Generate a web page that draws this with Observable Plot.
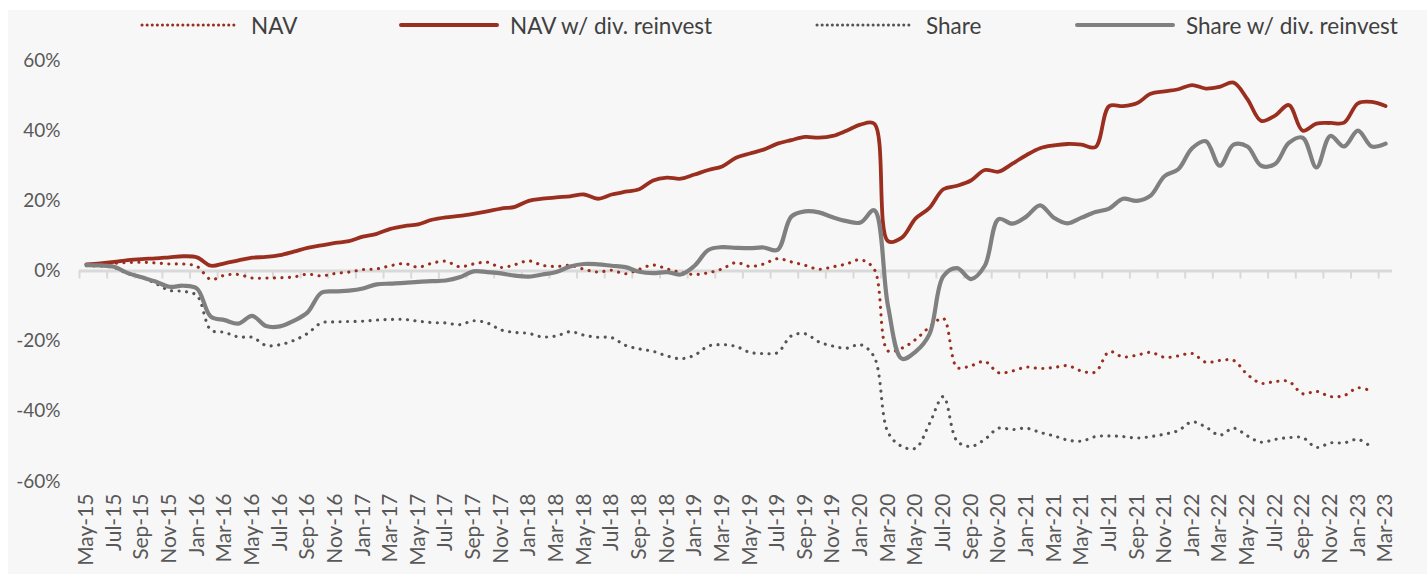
<!DOCTYPE html>
<html>
<head>
<meta charset="utf-8">
<script src="https://cdn.jsdelivr.net/npm/d3@7"></script>
<script src="https://cdn.jsdelivr.net/npm/@observablehq/plot@0.6"></script>
<style>
  body { margin: 0; background: #ffffff; }
  #wrap { position: relative; width: 1427px; height: 574px; background: #f7f7f7; overflow: hidden;
          font-family: Lato, "Open Sans", sans-serif; }
  .edgeT { position: absolute; left: 0; top: 0; width: 1427px; height: 10px; background: #fff; }
  .edgeL { position: absolute; left: 0; top: 0; width: 8px; height: 574px; background: #fff; }
  #legend { position: relative; height: 44px; }
  .item { position: absolute; top: 10px; height: 30px; display: flex; align-items: center;
          font-size: 22.5px; color: #404040; white-space: nowrap; }
  .item svg { margin-right: 11px; }
  #chart { position: relative; }
</style>
</head>
<body>
<div id="wrap">
  <div class="edgeT"></div>
  <div class="edgeL"></div>
  <div id="legend"></div>
  <div id="chart"></div>
</div>
<script>
// ---- data ----
const months = [
  "May-15","Jun-15","Jul-15","Aug-15","Sep-15","Oct-15","Nov-15","Dec-15",
  "Jan-16","Feb-16","Mar-16","Apr-16","May-16","Jun-16","Jul-16","Aug-16","Sep-16","Oct-16","Nov-16","Dec-16",
  "Jan-17","Feb-17","Mar-17","Apr-17","May-17","Jun-17","Jul-17","Aug-17","Sep-17","Oct-17","Nov-17","Dec-17",
  "Jan-18","Feb-18","Mar-18","Apr-18","May-18","Jun-18","Jul-18","Aug-18","Sep-18","Oct-18","Nov-18","Dec-18",
  "Jan-19","Feb-19","Mar-19","Apr-19","May-19","Jun-19","Jul-19","Aug-19","Sep-19","Oct-19","Nov-19","Dec-19",
  "Jan-20","Feb-20","Mar-20","Apr-20","May-20","Jun-20","Jul-20","Aug-20","Sep-20","Oct-20","Nov-20","Dec-20",
  "Jan-21","Feb-21","Mar-21","Apr-21","May-21","Jun-21","Jul-21","Aug-21","Sep-21","Oct-21","Nov-21","Dec-21",
  "Jan-22","Feb-22","Mar-22","Apr-22","May-22","Jun-22","Jul-22","Aug-22","Sep-22","Oct-22","Nov-22","Dec-22",
  "Jan-23","Feb-23","Mar-23"
];

// NAV (%), dotted red
const nav = [
  1.8, 2.0, 2.2, 2.4, 2.5, 2.3, 2.0, 2.0, 1.3, -2.4,
  -1.2, -1.0, -2.0, -2.0, -1.9, -1.7, -0.9, -1.4, -0.7, -0.3,
  0.4, 0.6, 1.5, 2.1, 1.1, 2.2, 2.8, 1.2, 2.0, 2.5,
  1.0, 1.8, 2.9, 1.6, 1.3, 1.6, 0.5, -0.3, 0.2, -0.8,
  0.5, 1.7, 0.6, -0.4, -1.0, -0.5, 0.6, 2.4, 1.3, 2.0,
  3.5, 2.6, 1.6, 0.5, 1.2, 2.0, 3.2, 0.5, -22.8, -22.0,
  -19.5, -16.0, -13.5, -27.5, -27.0, -25.8, -29.0, -28.5, -27.4, -27.8,
  -27.5, -27.0, -28.5, -28.8, -23.0, -24.5, -24.0, -23.2, -24.6, -24.2,
  -23.5, -26.0, -25.5, -25.5, -29.5, -32.0, -31.5, -31.5, -35.0, -34.3,
  -35.8, -35.5, -33.3, -34.3
];

// NAV w/ div. reinvest (%), solid red
const navReinvest = [
  1.9, 2.2, 2.6, 3.1, 3.4, 3.6, 3.9, 4.2, 3.9, 1.5,
  2.2, 3.0, 3.8, 4.0, 4.5, 5.5, 6.6, 7.3, 8.0, 8.5,
  9.8, 10.6, 12.0, 12.8, 13.3, 14.6, 15.3, 15.7, 16.3, 17.0,
  17.8, 18.3, 20.0, 20.6, 21.0, 21.3, 21.8, 20.6, 21.8, 22.6,
  23.3, 25.8, 26.6, 26.3, 27.5, 28.8, 29.8, 32.3, 33.5, 34.6,
  36.3, 37.3, 38.2, 38.0, 38.5, 40.0, 41.7, 42.0, 8.5, 9.5,
  15.0, 18.0, 23.3, 24.3, 25.8, 28.8, 28.3, 30.6, 33.0, 35.0,
  35.8, 36.2, 36.0, 35.3, 47.0, 47.0, 47.8, 50.5, 51.2, 51.8,
  53.0, 52.0, 52.5, 53.7, 49.0, 42.8, 44.3, 47.3, 40.0, 42.0,
  42.2, 42.3, 47.8, 48.2, 47.0
];

// Share (%), dotted grey
const share = [
  1.5, 1.4, 1.0, -0.8, -1.8, -3.5, -5.5, -5.8, -7.0, -16.8,
  -17.5, -18.8, -18.9, -21.2, -21.0, -19.8, -17.8, -14.8, -14.5, -14.4,
  -14.3, -14.0, -13.8, -13.8, -14.3, -14.7, -14.8, -15.3, -14.2, -14.8,
  -16.8, -17.5, -17.8, -18.8, -18.5, -17.3, -18.3, -18.9, -19.0, -21.2,
  -22.2, -22.9, -24.2, -25.0, -24.0, -21.4, -21.0, -21.5, -23.2, -23.5,
  -23.3, -18.5, -17.9, -20.2, -21.4, -22.0, -21.0, -24.5, -46.0, -50.0,
  -50.5, -43.5, -35.8, -48.5, -50.0, -48.0, -44.8, -45.2, -44.8, -46.0,
  -47.0, -48.2, -48.5, -47.2, -47.0, -47.2, -47.6, -47.2, -46.5, -45.5,
  -43.0, -44.5, -46.8, -44.8, -47.0, -48.8, -48.0, -47.5, -47.5, -50.3,
  -49.0, -49.0, -48.0, -50.3
];

// Share w/ div. reinvest (%), solid grey
const shareReinvest = [
  1.7, 1.6, 1.2, -0.6, -1.8, -3.0, -4.5, -4.2, -5.0, -13.0,
  -14.0, -15.0, -12.8, -15.7, -15.8, -14.2, -11.8, -6.2, -5.8, -5.6,
  -5.0, -3.8, -3.6, -3.4, -3.1, -2.9, -2.7, -1.8, -0.1, -0.3,
  -0.7, -1.3, -1.6, -1.0, -0.3, 1.3, 2.0, 1.9, 1.5, 1.1,
  -0.2, -0.6, -0.3, -1.0, 1.5, 6.0, 6.8, 6.6, 6.5, 6.7,
  6.0, 15.5, 17.0, 16.7, 15.3, 14.2, 13.8, 17.3, -10.0, -25.0,
  -23.0, -18.0, -1.5, 0.8, -2.3, 1.5, 14.8, 13.5, 15.5, 18.7,
  15.2, 13.6, 15.2, 16.8, 17.8, 20.6, 20.0, 21.5, 27.0, 29.0,
  35.0, 37.0, 30.0, 36.0, 35.5, 30.0, 30.5, 36.5, 38.0, 29.5,
  38.5, 35.5, 40.0, 35.5, 36.3
];

const seriesNames = ["NAV", "NAV w/ div. reinvest", "Share", "Share w/ div. reinvest"];
const yTicks = [-60, -40, -20, 0, 20, 40, 60];

// ---- styles ----
const RED = "#9a2f1f", GREY = "#808080", DARKGREY = "#555555";
const styles = [
  {stroke: RED, width: 3.1, dash: "0.1 7.4"},
  {stroke: RED, width: 3.8, dash: null},
  {stroke: DARKGREY, width: 3.1, dash: "0.1 7.4"},
  {stroke: GREY, width: 4.2, dash: null}
];
const valuesList = [nav, navReinvest, share, shareReinvest];
const legendLeft = [140, 399, 815, 1075];

// ---- legend ----
const legend = document.getElementById("legend");
seriesNames.forEach((name, k) => {
  const st = styles[k];
  const div = document.createElement("div");
  div.className = "item";
  div.style.left = legendLeft[k] + "px";
  const w = 100;
  div.innerHTML =
    `<svg width="${w}" height="8"><line x1="2" x2="${w - 2}" y1="4" y2="4" stroke="${st.stroke}" ` +
    `stroke-width="${st.dash ? 3 : 4}" stroke-linecap="round" ${st.dash ? 'stroke-dasharray="0.1 5"' : ""}/></svg>` +
    `<span>${name}</span>`;
  legend.appendChild(div);
});

// ---- chart ----
const n = months.length;
const labelIdx = d3.range(0, n, 2);
const boundaries = d3.range(-0.5, n - 1, 2);

const lineMarks = valuesList.map((vals, k) => {
  const st = styles[k];
  return Plot.line(d3.range(vals.length), {
    x: (i) => i,
    y: (i) => vals[i],
    curve: "catmull-rom",
    stroke: st.stroke,
    strokeWidth: st.width,
    strokeLinecap: "round",
    strokeLinejoin: "round",
    strokeDasharray: st.dash || undefined
  });
});

const chart = Plot.plot({
  width: 1427,
  height: 530,
  marginLeft: 79,
  marginRight: 35,
  marginTop: 16,
  marginBottom: 93,
  style: {background: "transparent", fontFamily: "Lato, 'Open Sans', sans-serif", color: "#595959", overflow: "visible"},
  x: {domain: [-0.5, n - 0.5]},
  y: {domain: [-60, 60]},
  marks: [
    Plot.axisY({ticks: yTicks, tickFormat: (d) => d + "%", tickSize: 0, tickPadding: 19, fontSize: 19, label: null}),
    Plot.axisX({ticks: labelIdx, tickFormat: (i) => months[i], tickRotate: -90, tickSize: 0, tickPadding: 12, fontSize: 21, label: null}),
    Plot.ruleY([0], {stroke: "#d9d9d9", strokeWidth: 2.8}),
    Plot.ruleX(boundaries, {x: (d) => d, y1: 0, y2: 0, insetBottom: -8, stroke: "#d9d9d9", strokeWidth: 2}),
    ...lineMarks
  ]
});
document.getElementById("chart").appendChild(chart);
</script>
</body>
</html>
